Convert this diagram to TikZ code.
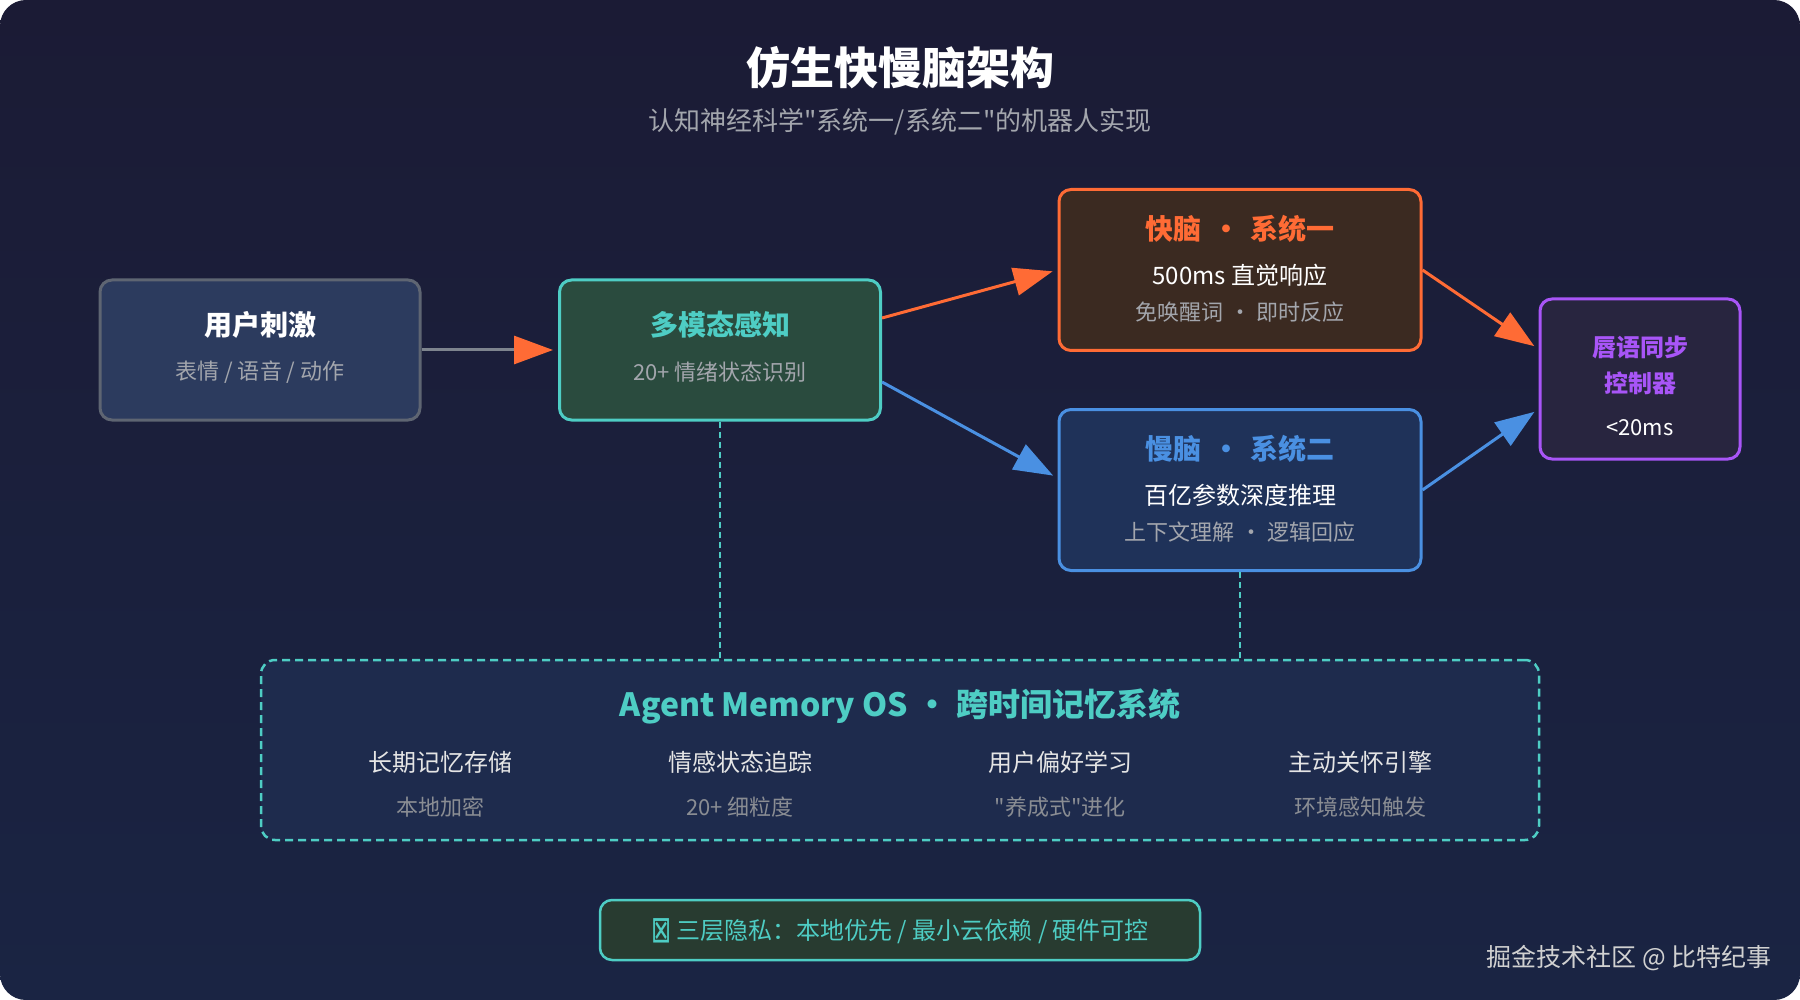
\documentclass[tikz,border=0pt]{standalone}
\usepackage{fontspec}
\usepackage{graphicx}
\newfontfamily\cjkf{Noto Sans CJK SC}
\newfontfamily\symfont{DejaVu Sans}
\usetikzlibrary{arrows.meta}
\definecolor{bgA}{HTML}{1B1B35}
\definecolor{bgB}{HTML}{1A2443}
\definecolor{orangeC}{HTML}{FF6B35}
\definecolor{tealC}{HTML}{4ECDC4}
\definecolor{blueC}{HTML}{4A90E2}
\definecolor{purpleC}{HTML}{A855F7}
\definecolor{grayT}{HTML}{A3A6AD}
\definecolor{grayL}{HTML}{5E6572}
\definecolor{fUser}{HTML}{2C3B5E}
\definecolor{fMulti}{HTML}{2A4B3E}
\definecolor{fFast}{HTML}{3B2A21}
\definecolor{fSlow}{HTML}{1F3259}
\definecolor{fLip}{HTML}{28253F}
\definecolor{fMem}{HTML}{1E2B4D}
\definecolor{fPriv}{HTML}{283B30}
\newcommand{\fsz}[1]{\fontsize{#1}{#1}\selectfont}
\newcommand{\dotsep}{\hspace{0.25em}·\hspace{0.25em}}
\newcommand{\tdotsep}{\hspace{0.36em}·\hspace{0.36em}}
\begin{document}
\begin{tikzpicture}[x=1pt,y=-1pt,
  every node/.style={font=\cjkf},
  box/.style={draw, line width=3pt, rounded corners=12pt, inner sep=0pt},
  txt/.style={inner sep=0pt, anchor=center},
  arr/.style={line width=3pt, shorten >=5pt},
  tipO/.style={-{Triangle[length=39pt,width=28pt,color=orangeC]}},
  tipB/.style={-{Triangle[length=39pt,width=28pt,color=blueC]}},
  dashc/.style={draw=tealC, line width=1.5pt, dash pattern=on 6pt off 4pt}]
\useasboundingbox (0,0) rectangle (1800,1000);
\fill[white] (0,0) rectangle (1800,1000);
\shade[top color=bgA, bottom color=bgB, rounded corners=26pt] (0,0) rectangle (1800,1000);

% title
\node[txt, text=white] (title) at (900,68) {\fsz{44}\bfseries 仿生快慢脑架构};
\node[txt, text=grayT] (subtitle) at (900,122) {\fsz{26}认知神经科学"系统一/系统二"的机器人实现};

% boxes
\node[box, draw=grayL, fill=fUser, minimum width=320pt, minimum height=140pt] (user) at (260,350) {};
\node[box, draw=tealC, fill=fMulti, minimum width=321pt, minimum height=140pt] (multi) at (720,350) {};
\node[box, draw=orangeC, fill=fFast, minimum width=362pt, minimum height=161pt] (fast) at (1240,270) {};
\node[box, draw=blueC, fill=fSlow, minimum width=362pt, minimum height=161pt] (slow) at (1240,490) {};
\node[box, draw=purpleC, fill=fLip, minimum width=200pt, minimum height=160pt] (lip) at (1640,379) {};
\node[draw=tealC, fill=fMem, line width=2.5pt, dash pattern=on 8pt off 5pt, rounded corners=14pt, inner sep=0pt, minimum width=1278pt, minimum height=180pt] (mem) at (900,750) {};
\node[box, draw=tealC, fill=fPriv, line width=2.5pt, minimum width=600pt, minimum height=60pt] (priv) at (900,930) {};

% box texts
\node[txt, text=white] (userT) at (260,325) {\fsz{28}\bfseries 用户刺激};
\node[txt, text=grayT] (userS) at (260,372) {\fsz{22}表情 / 语音 / 动作};
\node[txt, text=tealC] (multiT) at (720,325) {\fsz{28}\bfseries 多模态感知};
\node[txt, text=grayT] (multiS) at (720,372) {\fsz{22}20+ 情绪状态识别};
\node[txt, text=orangeC] (fastT) at (1240,229) {\fsz{28}\bfseries 快脑\tdotsep 系统一};
\node[txt, text=white] (fastA) at (1240,275) {\fsz{24}500ms 直觉响应};
\node[txt, text=grayT] (fastB) at (1240,312) {\fsz{22}免唤醒词\dotsep 即时反应};
\node[txt, text=blueC] (slowT) at (1240,449) {\fsz{28}\bfseries 慢脑\tdotsep 系统二};
\node[txt, text=white] (slowA) at (1240,495) {\fsz{24}百亿参数深度推理};
\node[txt, text=grayT] (slowB) at (1240,532) {\fsz{22}上下文理解\dotsep 逻辑回应};
\node[txt, text=purpleC] (lipA) at (1640,347) {\fsz{24}\bfseries 唇语同步};
\node[txt, text=purpleC] (lipB) at (1640,383) {\fsz{24}\bfseries 控制器};
\node[txt, text=white] (lipC) at (1640,428) {\fsz{22}<20ms};

% memory
\node[txt, text=tealC] (memT) at (900,706) {\fsz{32}\bfseries Agent Memory OS\dotsep 跨时间记忆系统};
\node[txt, text=white!90!black] (m1) at (440,762) {\fsz{24}长期记忆存储};
\node[txt, text=white!90!black] (m2) at (740,762) {\fsz{24}情感状态追踪};
\node[txt, text=white!90!black] (m3) at (1060,762) {\fsz{24}用户偏好学习};
\node[txt, text=white!90!black] (m4) at (1360,762) {\fsz{24}主动关怀引擎};
\node[txt, text=grayT!85!black] (n1) at (440,807) {\fsz{22}本地加密};
\node[txt, text=grayT!85!black] (n2) at (740,807) {\fsz{22}20+ 细粒度};
\node[txt, text=grayT!85!black] (n3) at (1060,807) {\fsz{22}"养成式"进化};
\node[txt, text=grayT!85!black] (n4) at (1360,807) {\fsz{22}环境感知触发};

% privacy
\node[txt, text=tealC] (privT) at (900,931) {\fsz{24}\raisebox{-0.12em}{\scalebox{1.0}[1.55]{\symfont ⊠}} 三层隐私：本地优先 / 最小云依赖 / 硬件可控};

% watermark
\node[txt, text=white!82!black, anchor=east] (wm) at (1772,958) {\fsz{25}掘金技术社区 @ 比特纪事};

% connectors
\draw[arr, tipO, draw=grayL!80!white] (user.east) -- (multi.west);
\draw[arr, tipO, draw=orangeC] ([yshift=32pt]multi.east) -- (fast.west);
\draw[arr, tipB, draw=blueC] ([yshift=-32pt]multi.east) -- ([yshift=12pt]slow.west);
\draw[arr, tipO, draw=orangeC] (fast.east) -- ([yshift=30pt]lip.west);
\draw[arr, tipB, draw=blueC] (slow.east) -- ([yshift=-30pt]lip.west);
\draw[dashc] (multi.south) -- (multi.south |- mem.north);
\draw[dashc] (slow.south) -- (slow.south |- mem.north);
\end{tikzpicture}
\end{document}
